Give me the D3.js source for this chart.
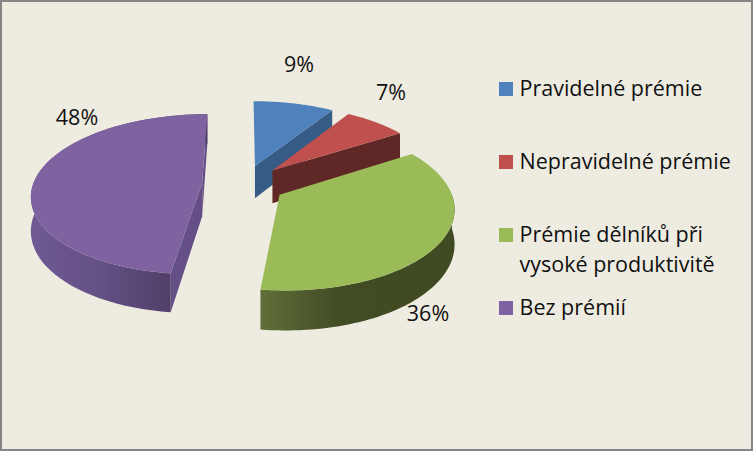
<!DOCTYPE html>
<html><head><meta charset="utf-8">
<script src="https://cdn.jsdelivr.net/npm/d3@7"></script>
<style>html,body{margin:0;padding:0;background:#eeece1}svg{display:block}text{font-family:"Open Sans",Lato,sans-serif;fill:#111}</style>
</head><body><svg id="c" width="753" height="451"></svg>
<script>
const categories = ["Pravidelné prémie","Nepravidelné prémie","Prémie dělníků při vysoké produktivitě","Bez prémií"];
const values = [9,7,36,48];
const legendLines = [["Pravidelné prémie"],["Nepravidelné prémie"],["Prémie dělníků při","vysoké produktivitě"],["Bez prémií"]];
const colors = ["#4f81bd","#c0504d","#9bbb59","#7f63a1"];

// layout
const W=753,H=451,cx=243.7,cy=184,rx=169,ry=78.75,ex=41.7,ey=19.5,f=550,depth=33.5;
const svg=d3.select("#c");
svg.append("rect").attr("x",1).attr("y",1).attr("width",W-2).attr("height",H-2).attr("fill","#eeece1").attr("stroke","#868686").attr("stroke-width",2);

const defs=svg.append("defs");
function grad(id,stops,x1,x2){
  const g=defs.append("linearGradient").attr("id",id).attr("gradientUnits","userSpaceOnUse").attr("x1",x1).attr("x2",x2).attr("y1",0).attr("y2",0);
  stops.forEach(s=>g.append("stop").attr("offset",s[0]).attr("stop-color",s[1]));
}
grad("gGreen",[[0,"#616e38"],[0.4,"#414c25"],[1,"#3f4a23"]],261,455);
grad("gPurple",[[0,"#6f5a94"],[0.5,"#635084"],[1,"#503f68"]],30,172);

const arcs=d3.pie().sort(null).value(d=>d).startAngle(0).endAngle(2*Math.PI)(values);
function project(X,Y,z){const s=1/(1-Y/f);return [cx+X*s,cy+Y*s+z*s];}
function pt(d,a,r,z){
  const m=(d.startAngle+d.endAngle)/2;
  const X=ex*Math.sin(m)+r*rx*Math.sin(a), Y=-ey*Math.cos(m)-r*ry*Math.cos(a);
  return project(X,Y,z);
}
const line=d3.line().curve(d3.curveLinear);
function arcPts(d,a0,a1,z){return d3.range(0,61).map(i=>pt(d,a0+(a1-a0)*i/60,1,z));}
function topFace(d){return line([pt(d,0,0,0),...arcPts(d,d.startAngle,d.endAngle,0)])+"Z";}
function rim(d,a0,a1){return line([...arcPts(d,a0,a1,0),...arcPts(d,a0,a1,depth).reverse()])+"Z";}
function cut(d,a){return line([pt(d,0,0,0),pt(d,a,1,0),pt(d,a,1,depth),pt(d,0,0,depth)])+"Z";}

const wallCut=["#375b87","#5f2726",null,"#654f87"];
const wallRim=[null,null,"url(#gGreen)","url(#gPurple)"];
arcs.forEach((d,i)=>{
  const g=svg.append("g");
  if(wallCut[i]){
    if(i<2) g.append("path").attr("d",cut(d,d.endAngle)).attr("fill",wallCut[i]);
    else { g.append("path").attr("d",cut(d,d.startAngle)).attr("fill",wallCut[i]);
           g.append("path").attr("d",cut(d,d.endAngle)).attr("fill",wallCut[i]); }
  }
  if(wallRim[i]) g.append("path").attr("d",rim(d,Math.max(d.startAngle,Math.PI/2),d.endAngle)).attr("fill",wallRim[i]);
  g.append("path").attr("d",topFace(d)).attr("fill",colors[i]);
});

// value labels
const labelAt=[[299,72],[391,100],[428,321],[77,125]];
values.forEach((v,i)=>svg.append("text").attr("x",labelAt[i][0]).attr("y",labelAt[i][1]).attr("text-anchor","middle").attr("font-size",21.5).text(v+"%"));

// legend
const legendY=[82,155,228,301];
categories.forEach((c,i)=>{
  svg.append("rect").attr("x",499).attr("y",legendY[i]).attr("width",14).attr("height",14).attr("fill",colors[i]);
  legendLines[i].forEach((t,j)=>svg.append("text").attr("x",519.5).attr("y",legendY[i]+14+j*30).attr("font-size",21.5).text(t));
});
</script></body></html>
